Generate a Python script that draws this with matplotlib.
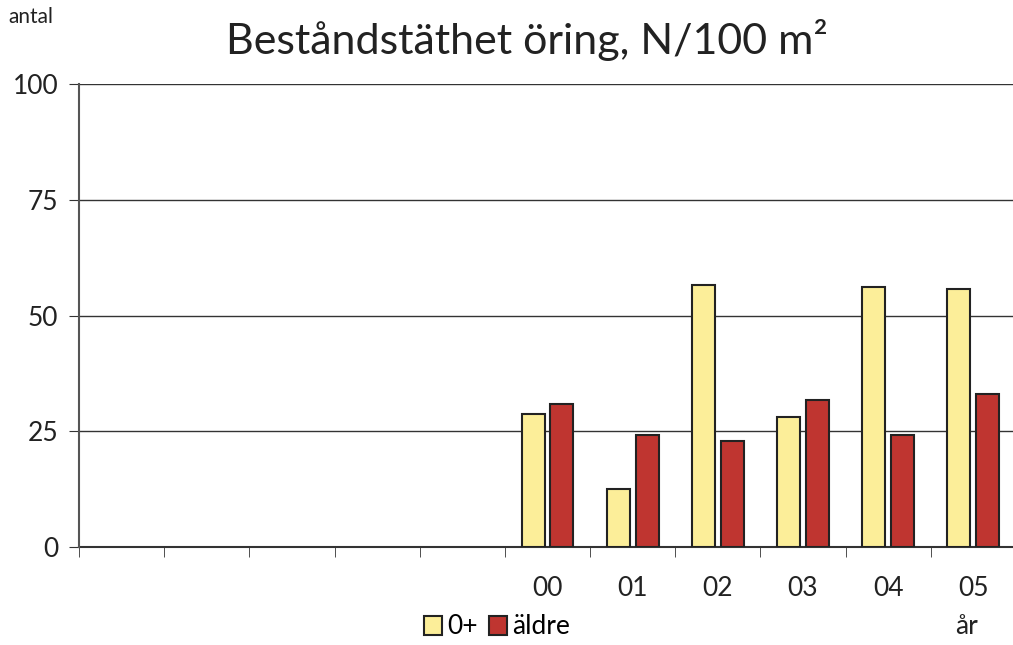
import numpy as np
import matplotlib
matplotlib.use("Agg")
import matplotlib.pyplot as plt

plt.rcParams["font.family"] = ["Lato", "DejaVu Sans"]

years = ["", "", "", "", "", "00", "01", "02", "03", "04", "05"]
young = [np.nan, np.nan, np.nan, np.nan, np.nan, 28.7, 12.6, 56.6, 28.1, 56.2, 55.7]
older = [np.nan, np.nan, np.nan, np.nan, np.nan, 30.8, 24.1, 22.8, 31.7, 24.1, 33.0]

W, H = 1013, 645
fig = plt.figure(figsize=(W / 100, H / 100), dpi=100)
ax = fig.add_axes([79 / W, 1 - 547 / H, 937 / W, 463 / H])

x = np.arange(len(years))
bw = 0.27
b1 = ax.bar(x - 0.17, young, bw, color="#FCEE99", edgecolor="#222222", linewidth=1.5, zorder=3, label="0+")
b2 = ax.bar(x + 0.17, older, bw, color="#BF3530", edgecolor="#222222", linewidth=1.5, zorder=3, label="äldre")

ax.set_xlim(-0.5, len(years) - 0.5)
ax.set_ylim(0, 100)
ax.set_yticks([0, 25, 50, 75, 100])
ax.tick_params(axis="y", labelsize=19, length=7, color="#333333", pad=8, labelcolor="#222222")
ax.grid(axis="y", color="#333333", linewidth=1, zorder=1)

# category labels centred, tick marks between categories
ax.set_xticks(x)
ax.set_xticklabels(years)
ax.tick_params(axis="x", which="major", length=0, labelsize=19, pad=21, labelcolor="#222222")
ax.set_xticks(np.arange(-0.5, len(years)), minor=True)
ax.tick_params(axis="x", which="minor", length=7, color="#333333")

for s in ["top", "right"]:
    ax.spines[s].set_visible(False)
ax.spines["left"].set_color("#555555")
ax.spines["left"].set_linewidth(1.5)
ax.spines["bottom"].set_color("#333333")
ax.spines["bottom"].set_linewidth(1.5)
ax.spines["left"].set_zorder(4)

fig.text(527 / W, 1 - 40 / H, "Beståndstäthet öring, N/100 m²", ha="center", va="center", fontsize=31, color="#222222")
fig.text(8 / W, 1 - 17 / H, "antal", ha="left", va="center", fontsize=15, color="#222222")
fig.text(966 / W, 1 - 627 / H, "år", ha="center", va="center", fontsize=19, color="#222222")

fig.legend(handles=[b1, b2], loc="center", bbox_to_anchor=(497 / W, 1 - 627 / H), ncol=2,
           frameon=False, fontsize=19, handlelength=0.7, handleheight=0.7,
           handletextpad=0.2, columnspacing=0.4)

fig.savefig("out.png", dpi=100)
